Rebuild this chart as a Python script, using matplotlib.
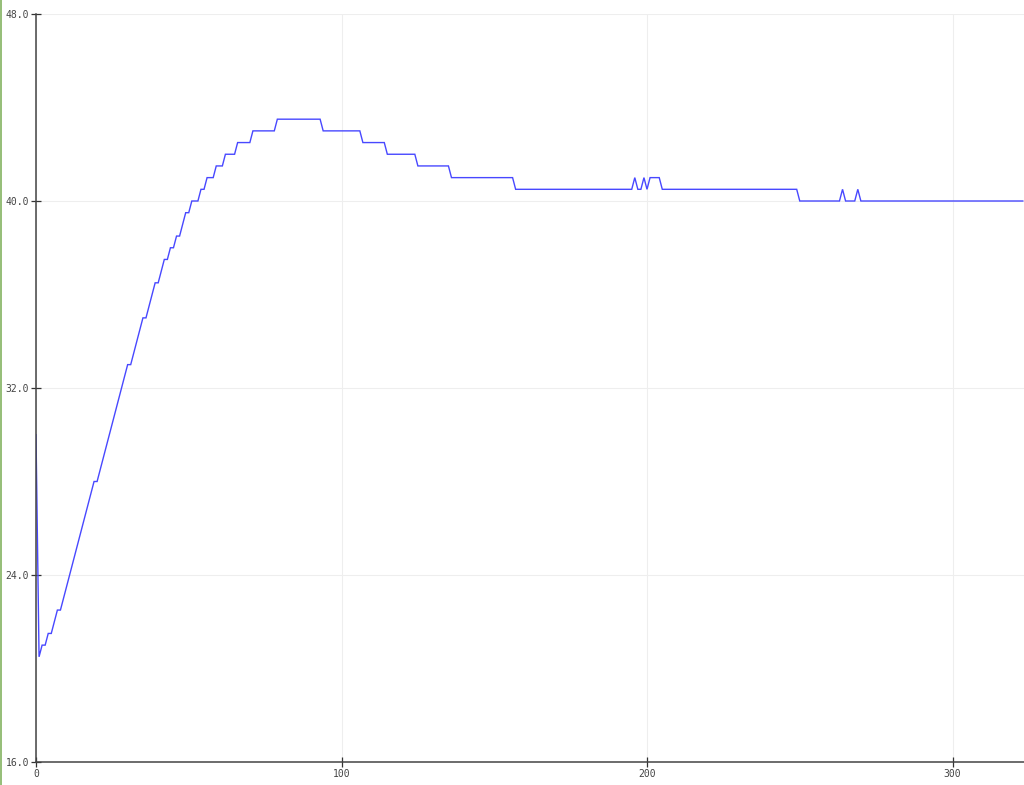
import matplotlib
matplotlib.use('Agg')
import matplotlib.pyplot as plt
from matplotlib.patches import Rectangle

# breakpoints of the trace
xs = [0, 1, 2, 3, 4, 5, 7, 8, 19, 20, 30, 31, 35, 36, 39, 40,
      42, 43, 44, 45, 46, 47, 49, 50, 51, 53, 54, 55, 56, 58, 59, 61,
      62, 65, 66, 70, 71, 78, 79, 93, 94, 106, 107, 114, 115, 124, 125, 135,
      136, 156, 157, 195, 196, 197, 198, 199, 200, 201, 204, 205, 249, 250, 263, 264,
      265, 268, 269, 270, 323]
ys = [30, 20.5, 21, 21, 21.5, 21.5, 22.5, 22.5, 28, 28, 33, 33, 35, 35, 36.5, 36.5,
      37.5, 37.5, 38, 38, 38.5, 38.5, 39.5, 39.5, 40, 40, 40.5, 40.5, 41, 41, 41.5, 41.5,
      42, 42, 42.5, 42.5, 43, 43, 43.5, 43.5, 43, 43, 42.5, 42.5, 42, 42, 41.5, 41.5,
      41, 41, 40.5, 40.5, 41, 40.5, 40.5, 41, 40.5, 41, 41, 40.5, 40.5, 40, 40, 40.5,
      40, 40, 40.5, 40, 40]

yticks = [16, 24, 32, 40, 48]
ytick_labels = ['16.0', '24.0', '32.0', '40.0', '48.0']
xticks = [0, 100, 200, 300]

W, H = 1024, 785
fig = plt.figure(figsize=(W / 100, H / 100), dpi=100)
fig.patch.set_facecolor('white')

ax = fig.add_axes([36 / W, 23 / H, (W - 36) / W, (762 - 14) / H])
ax.plot(xs, ys, color='#4848ff', lw=1.0, solid_joinstyle='miter')

ax.set_xlim(0, 323.4)
ax.set_ylim(16, 48)
ax.set_xticks(xticks)
ax.set_xticklabels([str(t) for t in xticks])
ax.set_yticks(yticks)
ax.set_yticklabels(ytick_labels)

for s in ['top', 'right']:
    ax.spines[s].set_visible(False)
for s in ['left', 'bottom']:
    ax.spines[s].set_color('#444444')
    ax.spines[s].set_linewidth(1.1)

ax.grid(True, color='#eeeeee', lw=0.8)
ax.set_axisbelow(True)
ax.tick_params(direction='inout', length=7, width=0.9, color='#333333',
               labelsize=7, labelcolor='#444444', pad=1.5)
for lab in ax.get_xticklabels() + ax.get_yticklabels():
    lab.set_family('DejaVu Sans Mono')

# thin green strip on the left edge of the picture
fig.patches.append(Rectangle((0, 0), 1.5 / W, 1, transform=fig.transFigure,
                             color='#97bf7a', zorder=10, lw=0))

fig.savefig('out.png', dpi=100)
